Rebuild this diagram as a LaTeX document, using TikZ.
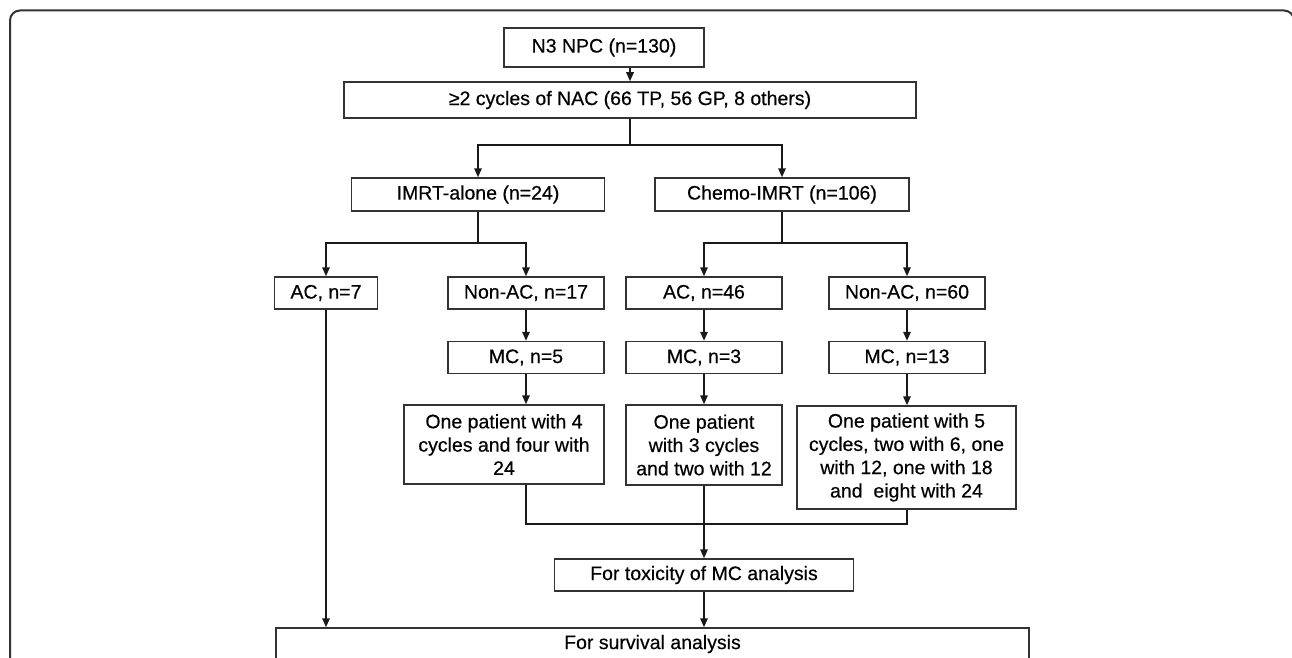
\documentclass[tikz,border=0pt]{standalone}
\usepackage{fontspec}
\setmainfont{Liberation Sans}
\newfontfamily\boxfont{Liberation Sans}[FakeBold=0.4]
\usetikzlibrary{arrows.meta}
\begin{document}
\begin{tikzpicture}[x=1pt,y=-1pt,
  box/.style={draw=black!80, line width=1.5pt, fill=white, inner sep=0pt, align=center,
    font=\boxfont\fontsize{19.5}{23.3}\selectfont, text=black},
  conn/.style={draw=black!90, line width=1.5pt},
  arr/.style={conn, -{Triangle[length=9pt,width=7.5pt]}}]
\useasboundingbox (0,0) rectangle (1292,658);
\clip (0,0) rectangle (1292,658);
\draw[line width=2pt, draw=black!80, rounded corners=10pt] (10,10.5) rectangle (1294,720);

\node[box, minimum width=200pt, minimum height=39pt] (n3) at (604,47.5) {N3 NPC (n=130)};
\node[box, minimum width=572pt, minimum height=36pt] (nac) at (630,100) {≥2 cycles of NAC (66 TP, 56 GP, 8 others)};
\node[box, minimum width=253pt, minimum height=33pt] (imrt) at (478,194.5) {IMRT-alone (n=24)};
\node[box, minimum width=254pt, minimum height=33pt] (chemo) at (782,194.5) {Chemo-IMRT (n=106)};
\node[box, minimum width=103pt, minimum height=32pt] (ac7) at (326,293) {AC, n=7};
\node[box, minimum width=156pt, minimum height=32pt] (non17) at (526,293) {Non-AC, n=17};
\node[box, minimum width=156pt, minimum height=32pt] (ac46) at (704,293) {AC, n=46};
\node[box, minimum width=156pt, minimum height=32pt] (non60) at (907,293) {Non-AC, n=60};
\node[box, minimum width=156pt, minimum height=32pt] (mc5) at (526,357.5) {MC, n=5};
\node[box, minimum width=156pt, minimum height=32pt] (mc3) at (704,357.5) {MC, n=3};
\node[box, minimum width=156pt, minimum height=32pt] (mc13) at (907,357.5) {MC, n=13};
\node[box, minimum width=200pt, minimum height=79pt] (m1) at (504,444.5) {One patient with 4\\cycles and four with\\24};
\node[box, minimum width=156pt, minimum height=80pt] (m2) at (704,445) {One patient\\with 3 cycles\\and two with 12};
\node[box, minimum width=219pt, minimum height=103pt] (m3) at (906.5,457.5) {One patient with 5\\cycles, two with 6, one\\with 12, one with 18\\and~ eight with 24};
\node[box, minimum width=299pt, minimum height=32pt] (tox) at (704,575) {For toxicity of MC analysis};
\node[box, minimum width=753pt, minimum height=32pt] (surv) at (652.5,644) {For survival analysis};

\coordinate (s1) at (630,145);
\coordinate (s2) at (0,243);
\coordinate (s3) at (0,524);

\draw[arr] (n3.south -| nac.north) -- (nac.north);
\draw[conn] (nac.south) -- (nac.south |- s1);
\draw[arr] (nac.south |- s1) -| (imrt.north);
\draw[arr] (nac.south |- s1) -| (chemo.north);
\draw[conn] (imrt.south) -- (imrt.south |- s2);
\draw[arr] (imrt.south |- s2) -| (ac7.north);
\draw[arr] (imrt.south |- s2) -| (non17.north);
\draw[conn] (chemo.south) -- (chemo.south |- s2);
\draw[arr] (chemo.south |- s2) -| (ac46.north);
\draw[arr] (chemo.south |- s2) -| (non60.north);
\draw[arr] (non17.south) -- (mc5.north);
\draw[arr] (ac46.south) -- (mc3.north);
\draw[arr] (non60.south) -- (mc13.north);
\draw[arr] (mc5.south) -- (mc5.south |- m1.north);
\draw[arr] (mc3.south) -- (m2.north);
\draw[arr] (mc13.south) -- (mc13.south |- m3.north);
\draw[conn] (mc5.south |- m1.south) -- (mc5.south |- s3) -- (mc13.south |- s3) -- (mc13.south |- m3.south);
\draw[arr] (m2.south) -- (tox.north);
\draw[arr] (tox.south) -- (tox.south |- surv.north);
\draw[arr] (ac7.south) -- (ac7.south |- surv.north);
\end{tikzpicture}
\end{document}
